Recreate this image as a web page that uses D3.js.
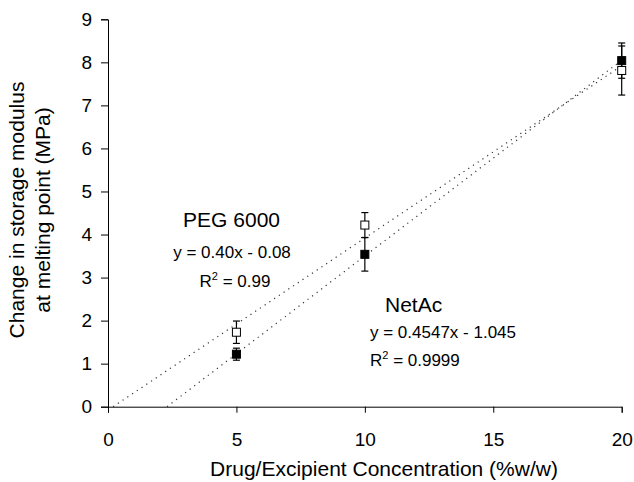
<!DOCTYPE html>
<html>
<head>
<meta charset="utf-8">
<script src="https://cdn.jsdelivr.net/npm/d3@7"></script>
<style>
  body { margin: 0; background: #fff; }
  svg { font-family: "Liberation Sans", Arial, sans-serif; }
</style>
</head>
<body>
<svg id="chart" width="634" height="482"></svg>
<script>
// concentrations (%w/w)
const conc = [5, 10, 20];
// PEG 6000 (open squares)
const pegValues = [1.73, 4.22, 7.81];
const pegErrors = [0.26, 0.29, 0.57];
// NetAc (filled squares)
const netacValues = [1.22, 3.54, 8.04];
const netacErrors = [0.14, 0.39, 0.41];
// linear fits [slope, intercept]
const pegFit = [0.40, -0.08];
const netacFit = [0.4547, -1.045];
const xTicks = [0, 5, 10, 15, 20];
const yTicks = [0, 1, 2, 3, 4, 5, 6, 7, 8, 9];

const svg = d3.select('#chart');

const plotLeft = 108;
const plotRight = 621.7;
const plotTop = 19.3;
const plotBottom = 406.7;

const x = d3.scaleLinear().domain([0, 20]).range([plotLeft, plotRight]);
const y = d3.scaleLinear().domain([0, 9]).range([plotBottom, plotTop]);

// axes
svg.append('g')
  .attr('transform', `translate(${plotLeft},0)`)
  .call(d3.axisLeft(y).tickValues(yTicks).tickSize(7).tickPadding(9))
  .call(g => g.selectAll('text').style('font-size', '19px').attr('fill', '#000'))
  .call(g => g.selectAll('line, path').attr('stroke', '#000'));

svg.append('g')
  .attr('transform', `translate(0,${plotBottom})`)
  .call(d3.axisBottom(x).tickValues(xTicks).tickSize(6).tickPadding(20))
  .call(g => g.selectAll('text').style('font-size', '19px').attr('fill', '#000'))
  .call(g => g.selectAll('line, path').attr('stroke', '#000'));

// trend lines, from the x-intercept to x = 20
const fits = [pegFit, netacFit];
fits.forEach(([m, b]) => {
  const x0 = -b / m;
  svg.append('line')
    .attr('x1', x(x0)).attr('y1', y(0))
    .attr('x2', x(20)).attr('y2', y(m * 20 + b))
    .attr('stroke', '#333')
    .attr('stroke-width', 1.2)
    .attr('stroke-dasharray', '1.2,4.5');
});

// error bars + markers
const series = [
  { values: netacValues, errors: netacErrors, fill: '#000' },
  { values: pegValues, errors: pegErrors, fill: '#fff' }
];

series.forEach(s => {
  const g = svg.append('g');
  conc.forEach((c, i) => {
    const v = s.values[i];
    const e = s.errors[i];
    g.append('line')
      .attr('x1', x(c)).attr('x2', x(c))
      .attr('y1', y(v + e)).attr('y2', y(v - e))
      .attr('stroke', '#000').attr('stroke-width', 1.2);
    [v + e, v - e].forEach(t => {
      g.append('line')
        .attr('x1', x(c) - 3.5).attr('x2', x(c) + 3.5)
        .attr('y1', y(t)).attr('y2', y(t))
        .attr('stroke', '#000').attr('stroke-width', 1.2);
    });
  });
  g.selectAll('rect')
    .data(conc)
    .enter()
    .append('rect')
    .attr('x', d => x(d) - 4)
    .attr('y', (d, i) => y(s.values[i]) - 4)
    .attr('width', 8)
    .attr('height', 8)
    .attr('fill', s.fill)
    .attr('stroke', '#000')
    .attr('stroke-width', 1);
});

// annotations
function rSquared(px, py, val, anchor) {
  const t = svg.append('text')
    .attr('x', px).attr('y', py)
    .attr('text-anchor', anchor)
    .style('font-size', '17px');
  t.append('tspan').text('R');
  t.append('tspan').text('2').attr('dy', -7).style('font-size', '11px');
  t.append('tspan').text(' = ' + val).attr('dy', 7);
}

svg.append('text').attr('x', 280).attr('y', 227)
  .attr('text-anchor', 'end').style('font-size', '21px').text('PEG 6000');
svg.append('text').attr('x', 232).attr('y', 258)
  .attr('text-anchor', 'middle').style('font-size', '17px').text('y = 0.40x - 0.08');
rSquared(235, 287, '0.99', 'middle');

svg.append('text').attr('x', 385).attr('y', 312)
  .style('font-size', '21px').text('NetAc');
svg.append('text').attr('x', 370).attr('y', 338)
  .style('font-size', '17px').text('y = 0.4547x - 1.045');
rSquared(370, 366, '0.9999', 'start');

// axis titles
svg.append('text')
  .attr('x', 384).attr('y', 476)
  .attr('text-anchor', 'middle')
  .style('font-size', '21px')
  .text('Drug/Excipient Concentration (%w/w)');

const yTitle = svg.append('text')
  .attr('transform', 'translate(0,210) rotate(-90)')
  .attr('text-anchor', 'middle')
  .style('font-size', '21px');
yTitle.append('tspan').attr('x', 0).attr('y', 24).text('Change in storage modulus');
yTitle.append('tspan').attr('x', 0).attr('y', 50).text('at melting point (MPa)');
</script>
</body>
</html>
